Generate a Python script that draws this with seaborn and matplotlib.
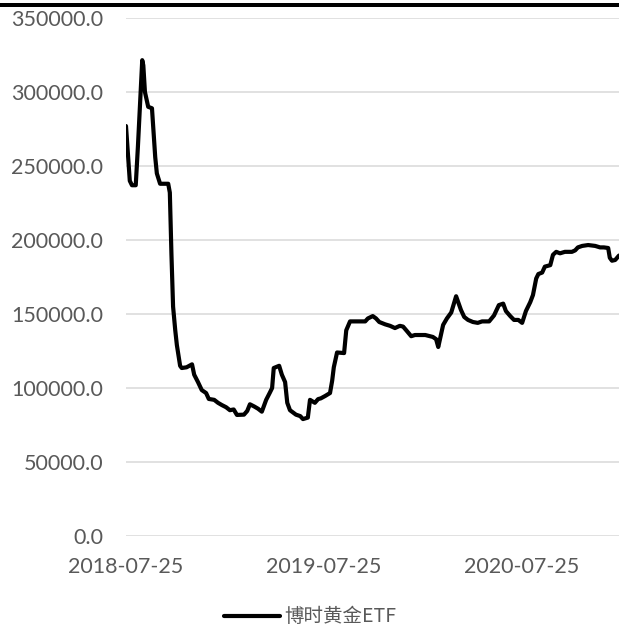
import numpy as np
import pandas as pd
import matplotlib
matplotlib.use("Agg")
import matplotlib.pyplot as plt
import seaborn as sns
from matplotlib.patches import Rectangle

# Holdings of the 博时黄金ETF fund, sampled along the period
start_date = "2018-07-25"
days_since_start = [
    0, 7, 11, 18, 22, 30, 32, 35, 41, 48,
    54, 57, 63, 78, 81, 84, 87, 91, 94, 100,
    103, 112, 122, 126, 133, 140, 148, 153, 163, 170,
    177, 185, 192, 199, 205, 218, 224, 229, 237, 244,
    251, 259, 266, 270, 273, 283, 288, 294, 298, 303,
    314, 322, 327, 336, 340, 349, 355, 360, 368, 377,
    381, 384, 390, 403, 407, 414, 442, 447, 456, 462,
    468, 479, 488, 497, 506, 512, 519, 527, 534, 553,
    567, 573, 577, 586, 593, 601, 610, 619, 625, 632,
    641, 650, 658, 671, 680, 689, 697, 702, 710, 717,
    725, 732, 739, 747, 752, 758, 762, 769, 774, 784,
    789, 795, 802, 811, 824, 830, 835, 843, 854, 867,
    876, 883, 891, 894, 898, 904, 911,
]
holdings = [
    277000, 240000, 237000, 237000, 263000, 321500, 318000, 300000, 290000, 289000,
    256000, 245000, 238000, 238000, 232000, 190000, 155000, 139000, 129000, 115000,
    113500, 114000, 116000, 109000, 104000, 98600, 96600, 92600, 92000, 90000,
    88500, 87000, 85000, 85500, 81800, 82000, 84500, 89000, 87500, 86000,
    84000, 92000, 97000, 100000, 113500, 115000, 109000, 104000, 90000, 85000,
    82000, 81000, 79000, 80000, 92000, 90000, 92500, 93000, 94600, 96600,
    105000, 114000, 124000, 123600, 139000, 145000, 145000, 147000, 148600, 147000,
    144600, 143000, 142000, 140500, 142000, 141500, 138500, 135000, 135800, 135800,
    134500, 133000, 127700, 142600, 147000, 151000, 162000, 152700, 148000, 146000,
    144600, 144000, 145000, 145000, 149000, 156000, 157000, 152000, 148600, 146000,
    146000, 144000, 152000, 158000, 162800, 174000, 177000, 178000, 182000, 183000,
    190000, 192000, 191000, 192000, 192000, 193000, 195000, 196000, 196600, 196000,
    195000, 195000, 194600, 188000, 186000, 186500, 189500,
]
series_name = "博时黄金ETF"
x_tick_labels = ["2018-07-25", "2019-07-25", "2020-07-25"]
y_ticks = [0, 50000, 100000, 150000, 200000, 250000, 300000, 350000]

df = pd.DataFrame({
    "date": pd.Timestamp(start_date) + pd.to_timedelta(days_since_start, unit="D"),
    "value": holdings,
    "series": series_name,
})

sns.set_theme(style="white")
plt.rcParams["font.family"] = ["Lato", "DejaVu Sans"]

W, H = 619, 628
fig = plt.figure(figsize=(W / 100, H / 100), dpi=100)
ax = fig.add_axes([126 / W, 1 - 536 / H, 1 - 126 / W, (536 - 18) / H])

sns.lineplot(data=df, x="date", y="value", hue="series", palette=["black"],
             linewidth=3.0, ax=ax, legend=False)
for ln in ax.get_lines():
    ln.set_solid_joinstyle("round")
    ln.set_solid_capstyle("round")

grey = "#595959"
ax.set_ylim(0, 350000)
ax.set_yticks(y_ticks)
ax.set_yticklabels([f"{v:.1f}" for v in y_ticks])
ax.set_xticks(pd.to_datetime(x_tick_labels))
ax.set_xticklabels(x_tick_labels)
t0 = pd.Timestamp(start_date)
ax.set_xlim(t0, t0 + pd.Timedelta(days=911))

ax.grid(axis="y", color="#D9D9D9", linewidth=1.1)
ax.grid(axis="x", visible=False)
ax.set_axisbelow(True)
for s in ax.spines.values():
    s.set_visible(False)
ax.tick_params(axis="both", length=0, labelsize=15.5, labelcolor=grey)
ax.tick_params(axis="y", pad=16.5)
ax.tick_params(axis="x", pad=15)
ax.set_xlabel("")
ax.set_ylabel("")

# legend below the plot
handle = plt.Line2D([], [], color="black", linewidth=3.0)
ax.legend([handle], [series_name], loc="center left",
          bbox_to_anchor=(224 / W, 1 - 617 / H), bbox_transform=fig.transFigure,
          frameon=False, borderpad=0, borderaxespad=0,
          handlelength=2.9, handletextpad=0.2,
          prop={"family": ["Noto Sans CJK SC", "DejaVu Sans"], "size": 14},
          labelcolor=grey)

# black rule across the top
fig.add_artist(Rectangle((0, 1 - 7 / H), 1, 4 / H, transform=fig.transFigure,
                         color="black", lw=0))

fig.savefig("out.png", dpi=100, facecolor="white")
